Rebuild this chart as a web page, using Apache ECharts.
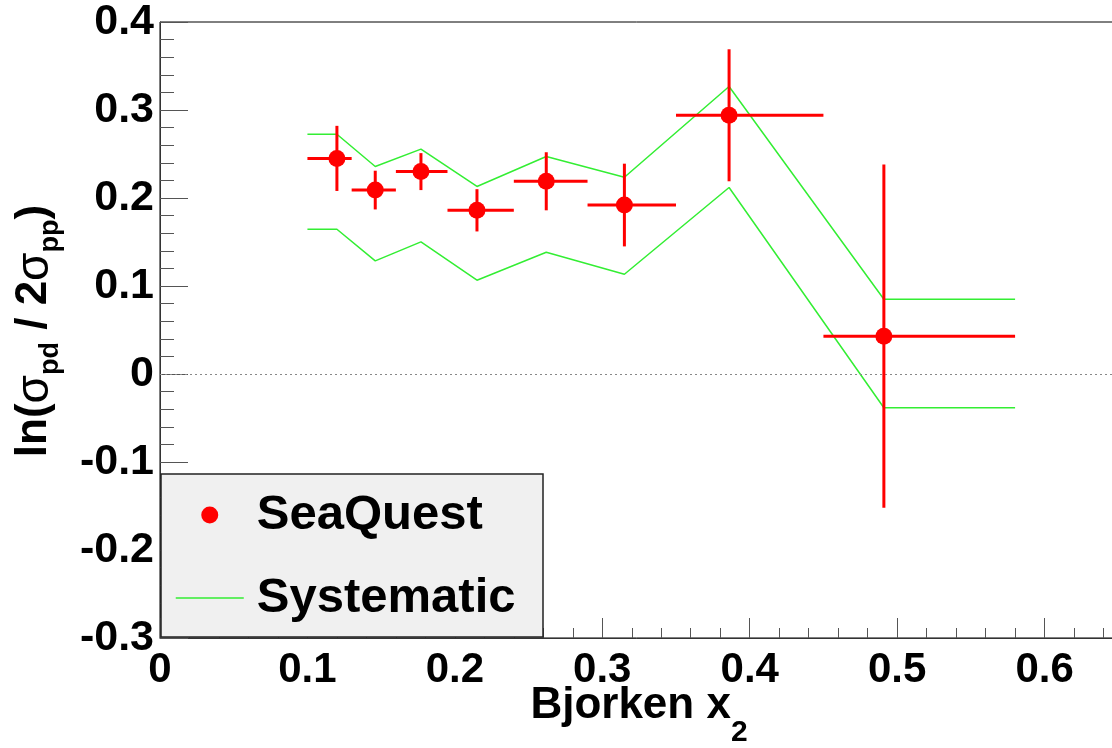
<!DOCTYPE html>
<html><head><meta charset="utf-8">
<script src="https://cdn.jsdelivr.net/npm/echarts@6/dist/echarts.min.js"></script>
<style>html,body{margin:0;padding:0;background:#fff}#chart{width:1112px;height:748px}</style>
</head><body><div id="chart"></div>
<script>
// ---- data ----
const binLow   = [0.100, 0.130, 0.160, 0.195, 0.240, 0.290, 0.350, 0.450];
const binHigh  = [0.130, 0.160, 0.195, 0.240, 0.290, 0.350, 0.450, 0.580];
const xCenter  = [0.120, 0.146, 0.177, 0.215, 0.262, 0.315, 0.386, 0.491];
const ratio    = [0.245, 0.209, 0.230, 0.186, 0.219, 0.192, 0.294, 0.043];
const statErr  = [0.037, 0.022, 0.021, 0.024, 0.033, 0.047, 0.075, 0.195];
const sysUpper = [0.2725, 0.2358, 0.2555, 0.2131, 0.2472, 0.2236, 0.3267, 0.085];
const sysLower = [0.1645, 0.1286, 0.1502, 0.1066, 0.1384, 0.1134, 0.2119, -0.0384];
const seriesNames = ['SeaQuest', 'Systematic'];
const xTitle = 'Bjorken x';
const xTitleSub = '2';

const F = '"Liberation Sans", Arial, Helvetica, sans-serif';
const RED = '#ff0000';
const GREEN = '#33ee33';

const points = xCenter.map((x, i) => [x, ratio[i]]);
const errRows = xCenter.map((x, i) => [x, ratio[i], binLow[i], binHigh[i], ratio[i] - statErr[i], ratio[i] + statErr[i]]);
function band(arr) {
  const d = [[binLow[0], arr[0]]];
  xCenter.forEach((x, i) => d.push([x, arr[i]]));
  d.push([binHigh[binHigh.length - 1], arr[arr.length - 1]]);
  return d;
}
const fmt = v => (Math.abs(v) < 1e-9 ? '0' : String(+v.toFixed(1)));

const chart = echarts.init(document.getElementById('chart'), null, {renderer: 'canvas'});
chart.setOption({
  animation: false,
  backgroundColor: '#fff',
  grid: {left: 160, top: 22, width: 1032, height: 616, outerBoundsMode: 'none', containLabel: false,
    show: true, borderColor: '#000', borderWidth: 1, backgroundColor: 'transparent'},
  xAxis: {
    type: 'value', min: 0, max: 0.7, interval: 0.1,
    axisLine: {onZero: false, lineStyle: {color: '#333', width: 1}},
    axisTick: {inside: true, length: 20, lineStyle: {color: '#555', width: 1}},
    minorTick: {show: true, splitNumber: 5, length: 10, lineStyle: {color: '#555', width: 1}},
    splitLine: {show: false},
    axisLabel: {fontSize: 42, fontWeight: 'bold', fontFamily: F, color: '#000', margin: 11, formatter: fmt}
  },
  yAxis: {
    type: 'value', min: -0.3, max: 0.4, interval: 0.1,
    axisLine: {onZero: false, lineStyle: {color: '#333', width: 1}},
    axisTick: {inside: true, length: 28, lineStyle: {color: '#555', width: 1}},
    minorTick: {show: true, splitNumber: 5, length: 14, lineStyle: {color: '#555', width: 1}},
    splitLine: {show: false},
    axisLabel: {fontSize: 43, fontWeight: 'bold', fontFamily: F, color: '#000', margin: 6, formatter: fmt}
  },
  legend: {
    orient: 'vertical', left: 175, top: 490, padding: 0, itemGap: 33,
    itemWidth: 68, itemHeight: 17, z: 20, selectedMode: false,
    textStyle: {fontSize: 49, fontWeight: 'bold', fontFamily: F, color: '#000', lineHeight: 50, padding: [0, 0, 0, 8]},
    data: [
      {name: seriesNames[0], icon: 'circle', itemStyle: {color: RED, opacity: 1}},
      {name: seriesNames[1], itemStyle: {opacity: 0}, lineStyle: {color: GREEN, width: 1.5, opacity: 1}}
    ]
  },
  graphic: [
    {type: 'rect', z: 10, shape: {x: 161, y: 474, width: 382, height: 163},
      style: {fill: '#f0f0f0', stroke: '#222', lineWidth: 1.5}},
    {type: 'text', z: 10, x: 639, y: 684,
      style: {text: '{m|' + xTitle + '}{s|' + xTitleSub + '}', align: 'center', verticalAlign: 'top',
        rich: {
          m: {fontSize: 44, fontWeight: 'bold', fontFamily: F, fill: '#000', lineHeight: 44, verticalAlign: 'top'},
          s: {fontSize: 30, fontWeight: 'bold', fontFamily: F, fill: '#000', lineHeight: 64, verticalAlign: 'bottom'}
        }}},
    {type: 'text', z: 10, x: 12, y: 331, rotation: Math.PI / 2,
      style: {text: '{m|ln(}{g|σ}{s|pd}{m| / 2}{g|σ}{s|pp}{m|)}', align: 'center', verticalAlign: 'top',
        rich: {
          m: {fontSize: 44, fontWeight: 'bold', fontFamily: F, fill: '#000', lineHeight: 44, verticalAlign: 'top'},
          g: {fontSize: 46, fontWeight: 'normal', fontFamily: F, fill: '#000', lineHeight: 46, verticalAlign: 'top'},
          s: {fontSize: 27, fontWeight: 'bold', fontFamily: F, fill: '#000', lineHeight: 52, verticalAlign: 'bottom'}
        }}}
  ],
  series: [
    {
      name: seriesNames[0], type: 'scatter', data: points, symbol: 'circle', symbolSize: 17,
      itemStyle: {color: RED, opacity: 1}, z: 6,
      markLine: {silent: true, symbol: ['none', 'none'], label: {show: false}, animation: false,
        lineStyle: {type: [2, 3], color: '#888', width: 1}, data: [{yAxis: 0}]}
    },
    {
      name: 'stat', type: 'custom', data: errRows, z: 5,
      encode: {x: [0, 2, 3], y: [1, 4, 5]},
      renderItem: function (params, api) {
        const l = api.coord([api.value(2), api.value(1)]);
        const r = api.coord([api.value(3), api.value(1)]);
        const b = api.coord([api.value(0), api.value(4)]);
        const t = api.coord([api.value(0), api.value(5)]);
        const st = {stroke: RED, lineWidth: 3};
        return {type: 'group', children: [
          {type: 'line', shape: {x1: l[0], y1: l[1], x2: r[0], y2: r[1]}, style: st},
          {type: 'line', shape: {x1: t[0], y1: t[1], x2: b[0], y2: b[1]}, style: st}
        ]};
      }
    },
    {name: seriesNames[1], type: 'line', data: band(sysUpper), symbol: 'none', z: 4,
      lineStyle: {color: GREEN, width: 1.5}, itemStyle: {color: GREEN}},
    {name: seriesNames[1], type: 'line', data: band(sysLower), symbol: 'none', z: 4,
      lineStyle: {color: GREEN, width: 1.5}, itemStyle: {color: GREEN}}
  ]
});
</script></body></html>
